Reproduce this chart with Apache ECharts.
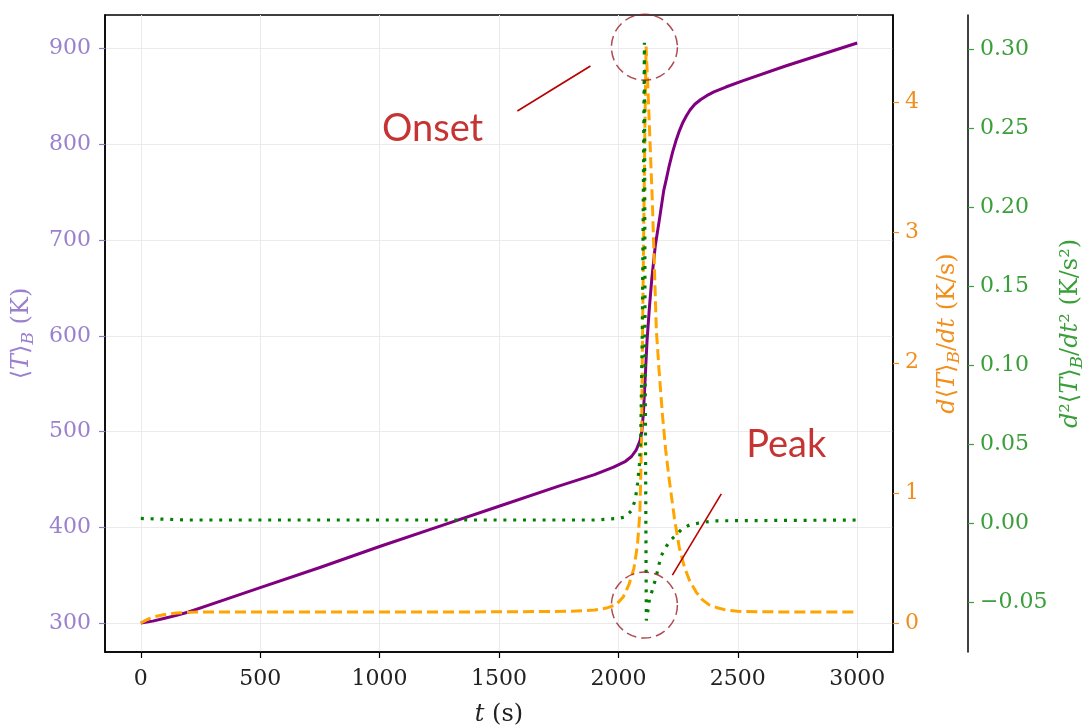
<!DOCTYPE html>
<html>
<head>
<meta charset="utf-8">
<script src="https://cdn.jsdelivr.net/npm/echarts@6/dist/echarts.min.js"></script>
<style>
html,body{margin:0;padding:0;background:#fff;}
#chart{width:1089px;height:728px;}
</style>
</head>
<body>
<div id="chart"></div>
<script>
// ---- data ----
// Mean temperature <T>_B (K), left axis
const tT = [0, 50, 100, 150, 200, 300, 500, 750, 1000, 1250, 1500, 1750, 1900, 1980, 2030, 2055, 2075, 2090, 2098, 2105, 2112, 2120, 2130, 2140, 2155, 2172, 2190, 2200, 2213, 2227, 2240, 2255, 2270, 2285, 2300, 2320, 2345, 2370, 2400, 2450, 2520, 2700, 3000];
const T  = [300, 302, 305, 308, 311.5, 320, 337, 358, 380, 401, 422, 443, 455, 463, 469, 474, 481, 490, 500, 520, 555, 595, 630, 660, 695, 722, 752, 763, 778, 792, 803, 814, 823, 830, 836, 842, 847, 851, 855, 860, 866.5, 882, 906];

// First derivative d<T>_B/dt (K/s), first right axis
const tD = [0, 30, 60, 100, 150, 200, 250, 400, 1000, 1500, 1800, 1900, 1950, 1990, 2020, 2045, 2065, 2080, 2090, 2097, 2101, 2106, 2111, 2116, 2126, 2142, 2159, 2170, 2184, 2198, 2213, 2235, 2255, 2275, 2297, 2325, 2351, 2380, 2410, 2450, 2500, 2600, 3000];
const dT = [0, 0.03, 0.05, 0.065, 0.077, 0.082, 0.085, 0.085, 0.085, 0.086, 0.09, 0.1, 0.115, 0.14, 0.2, 0.3, 0.42, 0.6, 0.85, 1.4, 2.2, 3.0, 3.8, 4.43, 4.0, 3.25, 2.25, 1.95, 1.61, 1.33, 1.1, 0.8, 0.58, 0.44, 0.33, 0.24, 0.18, 0.14, 0.12, 0.1, 0.09, 0.086, 0.085];

// Second derivative d2<T>_B/dt2 (K/s2), second right axis
const tG = [0, 200, 1000, 1900, 2000, 2030, 2055, 2071, 2080, 2088, 2094, 2100, 2104, 2109, 2112, 2117, 2124, 2130, 2144, 2158, 2178, 2200, 2213, 2241, 2268, 2300, 2340, 2400, 3000];
const G  = [0.003, 0.002, 0.002, 0.002, 0.003, 0.004, 0.008, 0.015, 0.025, 0.037, 0.058, 0.12, 0.2, 0.304, 0.1, -0.0615, -0.055, -0.048, -0.0415, -0.034, -0.021, -0.015, -0.0115, -0.0076, -0.0034, -0.001, 0.0002, 0.0015, 0.002];

// tick labels
const xTicks = [0, 500, 1000, 1500, 2000, 2500, 3000];
const yTTicks = [300, 400, 500, 600, 700, 800, 900];
const yDTicks = [0, 1, 2, 3, 4];
const yGTicks = [-0.05, 0, 0.05, 0.10, 0.15, 0.20, 0.25, 0.30];

// annotations (in t / <T>_B coordinates)
const annoLabels = ['Onset', 'Peak'];
const annoTextAt = [[1222, 816], [2703, 486]];
const annoCircles = [[2109, 901.6], [2109, 318.8]];
const onsetLine = [[1577, 835], [1883, 882]];
const peakLine = [[2226, 350], [2431, 435]];

// ---- chart ----
const zip = (a, b) => a.map((v, i) => [v, b[i]]);
const serif = "'DejaVu Serif', 'DejaVu Sans', serif";
const cPurple = '#800080', cOrange = '#ffa500', cGreen = '#008000';
const lPurple = '#9b80cf', lOrange = '#f28e1c', lGreen = '#3a9e3a';
const annoRed = '#b80000', circRed = '#9a1f25';
const FS = 22;

function richFor(color) {
  return {
    n: {fontFamily: serif, fontSize: 24, color: color, lineHeight: 30},
    i: {fontFamily: serif, fontSize: 24, fontStyle: 'italic', color: color, lineHeight: 30},
    s: {fontFamily: serif, fontSize: 17, fontStyle: 'italic', color: color, lineHeight: 17, verticalAlign: 'bottom'}
  };
}

const chart = echarts.init(document.getElementById('chart'), null, {renderer: 'canvas'});

const option = {
  animation: false,
  backgroundColor: '#fff',
  grid: {left: 105, right: 196, top: 15, bottom: 76, show: true, borderColor: '#000', borderWidth: 1.5, containLabel: false, outerBoundsMode: 'none'},
  xAxis: {
    type: 'value', min: -150, max: 3150,
    name: '{i|t}{n| (s)}', nameLocation: 'middle', nameGap: 48,
    nameTextStyle: {rich: richFor('#222')},
    axisLine: {show: true, onZero: false, lineStyle: {color: '#000', width: 1.5}},
    axisTick: {show: true, length: 6, customValues: xTicks, lineStyle: {color: '#000', width: 1.2}},
    axisLabel: {customValues: xTicks, margin: 16, color: '#222', fontFamily: serif, fontSize: FS, formatter: v => String(v)},
    splitLine: {show: true, lineStyle: {color: '#ebebeb', width: 1}}
  },
  yAxis: [
    {
      type: 'value', position: 'left', min: 269.75, max: 935.25,
      name: '{n|⟨}{i|T}{n|⟩}{s|B}{n| (K)}', nameLocation: 'middle', nameGap: 68, nameRotate: 90,
      nameTextStyle: {rich: richFor(lPurple)},
      axisLine: {show: true, onZero: false, lineStyle: {color: '#000', width: 1.5}},
      axisTick: {show: true, length: 6, customValues: yTTicks, lineStyle: {color: '#8a7fc0', width: 1.2}},
      axisLabel: {customValues: yTTicks, margin: 14, color: lPurple, fontFamily: serif, fontSize: FS, formatter: v => String(v)},
      splitLine: {show: true, lineStyle: {color: '#ebebeb', width: 1}}
    },
    {
      type: 'value', position: 'right', offset: 0, min: -0.2225, max: 4.6725,
      name: '{i|d}{n|⟨}{i|T}{n|⟩}{s|B}{n|/}{i|dt}{n| (K/s)}', nameLocation: 'middle', nameGap: 40, nameRotate: 90,
      nameTextStyle: {rich: richFor(lOrange)},
      axisLine: {show: true, onZero: false, lineStyle: {color: '#000', width: 1.5}},
      axisTick: {show: true, length: 6, customValues: yDTicks, lineStyle: {color: lOrange, width: 1.2}},
      axisLabel: {customValues: yDTicks, margin: 12, color: lOrange, fontFamily: serif, fontSize: FS, formatter: v => String(v)},
      splitLine: {show: false}
    },
    {
      type: 'value', position: 'right', offset: 75, min: -0.0815, max: 0.3215,
      name: '{i|d}{n|²⟨}{i|T}{n|⟩}{s|B}{n|/}{i|dt}{n|² (K/s²)}', nameLocation: 'middle', nameGap: 88, nameRotate: 90,
      nameTextStyle: {rich: richFor(lGreen)},
      axisLine: {show: true, onZero: false, lineStyle: {color: '#000', width: 1.5}},
      axisTick: {show: true, length: 6, customValues: yGTicks, lineStyle: {color: lGreen, width: 1.2}},
      axisLabel: {
        customValues: yGTicks, margin: 12, color: lGreen, fontFamily: serif, fontSize: FS,
        formatter: v => (v < -1e-9 ? '\u2212' + Math.abs(v).toFixed(2) : Math.abs(v).toFixed(2))
      },
      splitLine: {show: false}
    }
  ],
  series: [
    {
      name: 'T', type: 'line', yAxisIndex: 0, data: zip(tT, T), showSymbol: false, smooth: false, z: 3,
      lineStyle: {color: cPurple, width: 3, join: 'round'}
    },
    {
      name: 'dT', type: 'line', yAxisIndex: 1, data: zip(tD, dT), showSymbol: false, z: 4,
      lineStyle: {color: cOrange, width: 3, type: [11, 5]}
    },
    {
      name: 'd2T', type: 'line', yAxisIndex: 2, data: zip(tG, G), showSymbol: false, z: 5,
      lineStyle: {color: cGreen, width: 3.2, type: [3, 6.8], cap: 'butt'}
    },
    {
      name: 'onsetLine', type: 'line', yAxisIndex: 0, data: onsetLine, showSymbol: false, silent: true, z: 6,
      lineStyle: {color: annoRed, width: 1.6}
    },
    {
      name: 'peakLine', type: 'line', yAxisIndex: 0, data: peakLine, showSymbol: false, silent: true, z: 6,
      lineStyle: {color: annoRed, width: 1.6}
    },
    {
      name: 'circles', type: 'scatter', yAxisIndex: 0, data: annoCircles, symbol: 'circle', symbolSize: 66, silent: true, z: 7,
      itemStyle: {color: 'rgba(0,0,0,0)', borderColor: circRed, borderWidth: 1.5, borderType: [10, 5]}
    },
    {
      name: 'labels', type: 'scatter', yAxisIndex: 0, symbolSize: 1, silent: true, z: 8,
      data: annoTextAt.map((p, i) => ({value: p, name: annoLabels[i]})),
      itemStyle: {color: 'rgba(0,0,0,0)'},
      label: {show: true, position: 'inside', formatter: p => p.name, color: annoRed, fontFamily: "Lato, 'Open Sans', sans-serif", fontSize: 38}
    }
  ]
};
chart.setOption(option);
</script>
</body>
</html>
